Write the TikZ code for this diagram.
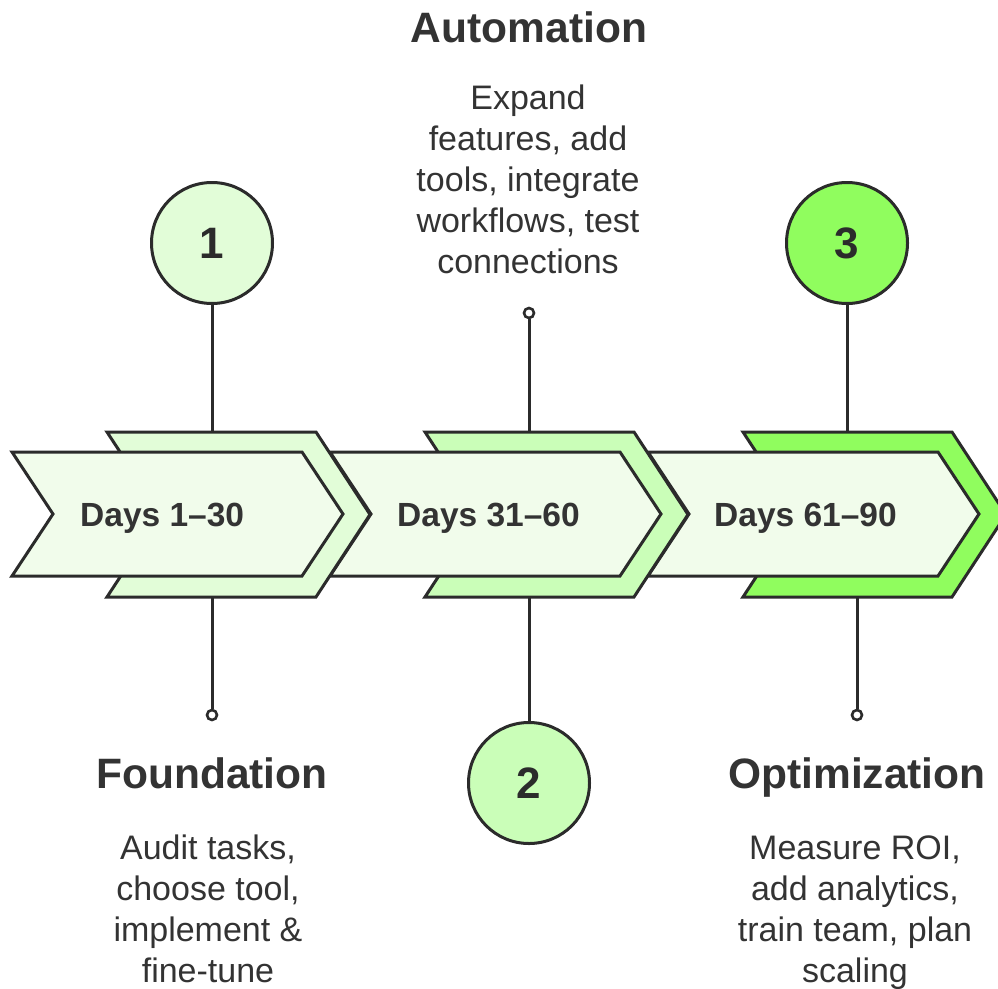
\documentclass[tikz,border=0pt]{standalone}
\usepackage{fontspec}
\setmainfont{Liberation Sans}
\definecolor{ink}{HTML}{2B2B2B}
\definecolor{txt}{HTML}{333333}
\definecolor{frontfill}{HTML}{F1FCEB}
\definecolor{gA}{HTML}{E2FDD8}
\definecolor{gB}{HTML}{CAFEB8}
\definecolor{gC}{HTML}{90FD5E}
\begin{document}
\begin{tikzpicture}[x=1pt,y=-1pt,
  shapeline/.style={draw=ink, line width=3pt, line join=miter},
  conn/.style={draw=ink, line width=3pt},
  bignum/.style={circle, draw=ink, line width=3pt, minimum size=121pt, inner sep=0pt,
    font=\fontsize{44}{44}\selectfont\bfseries, text=ink},
  dot/.style={circle, draw=ink, fill=white, line width=2.6pt, minimum size=10pt, inner sep=0pt},
  title/.style={font=\fontsize{42.5}{50}\selectfont\bfseries, text=txt, inner sep=0pt, anchor=base},
  body/.style={font=\fontsize{34}{41}\selectfont, text=txt, align=center, inner sep=0pt, anchor=north},
  days/.style={font=\fontsize{33.5}{40}\selectfont\bfseries, text=txt, inner sep=0pt, anchor=base west}]
\useasboundingbox (0,0) rectangle (998,988);
\clip (0,0) rectangle (998,988);

% circles and small dots
\node[bignum, fill=gA] (n1) at (212,243) {1};
\node[bignum, fill=gB] (n2) at (529,783) {2};
\node[bignum, fill=gC] (n3) at (847,243) {3};
\node[dot] (d1) at (212,715) {};
\node[dot] (d2) at (529,313) {};
\node[dot] (d3) at (857,715) {};

% attachment points on the back chevrons
\coordinate (t1) at (212,432);
\coordinate (b1) at (212,597);
\coordinate (t2) at (529,432);
\coordinate (b2) at (529,597);
\coordinate (t3) at (847,432);
\coordinate (b3) at (857,597);

% connectors
\draw[conn] (n1) -- (t1);
\draw[conn] (b1) -- (d1);
\draw[conn] (d2) -- (t2);
\draw[conn] (b2) -- (n2);
\draw[conn] (n3) -- (t3);
\draw[conn] (b3) -- (d3);

% chevrons, drawn from right to left so that each back shape covers the next front one
\foreach \i/\col in {2/gC,1/gB,0/gA}{
  \begin{scope}[xshift={318pt*\i}]
    \path[shapeline, fill=\col] (107,432) -- (316,432) -- (370,514.5) -- (316,597)
      -- (107,597) -- (161,514.5) -- cycle;
    \path[shapeline, fill=frontfill] (12,452) -- (302,452) -- (343,514) -- (302,576)
      -- (12,576) -- (53,514) -- cycle;
  \end{scope}
}

% labels in chevrons
\node[days] (p1) at (80,526) {Days 1–30};
\node[days] (p2) at (397,526) {Days 31–60};
\node[days] (p3) at (714,526) {Days 61–90};

% titles and descriptions
\node[title] (h2) at (529,42) {Automation};
\node[body] (s2) at (528,85) {Expand\\features, add\\tools, integrate\\workflows, test\\connections};
\node[title] (h1) at (212,788) {Foundation};
\node[body] (s1) at (208,835) {Audit tasks,\\choose tool,\\implement \&\\fine-tune};
\node[title] (h3) at (857,788) {Optimization};
\node[body] (s3) at (855,836) {Measure ROI,\\add analytics,\\train team, plan\\scaling};
\end{tikzpicture}
\end{document}
